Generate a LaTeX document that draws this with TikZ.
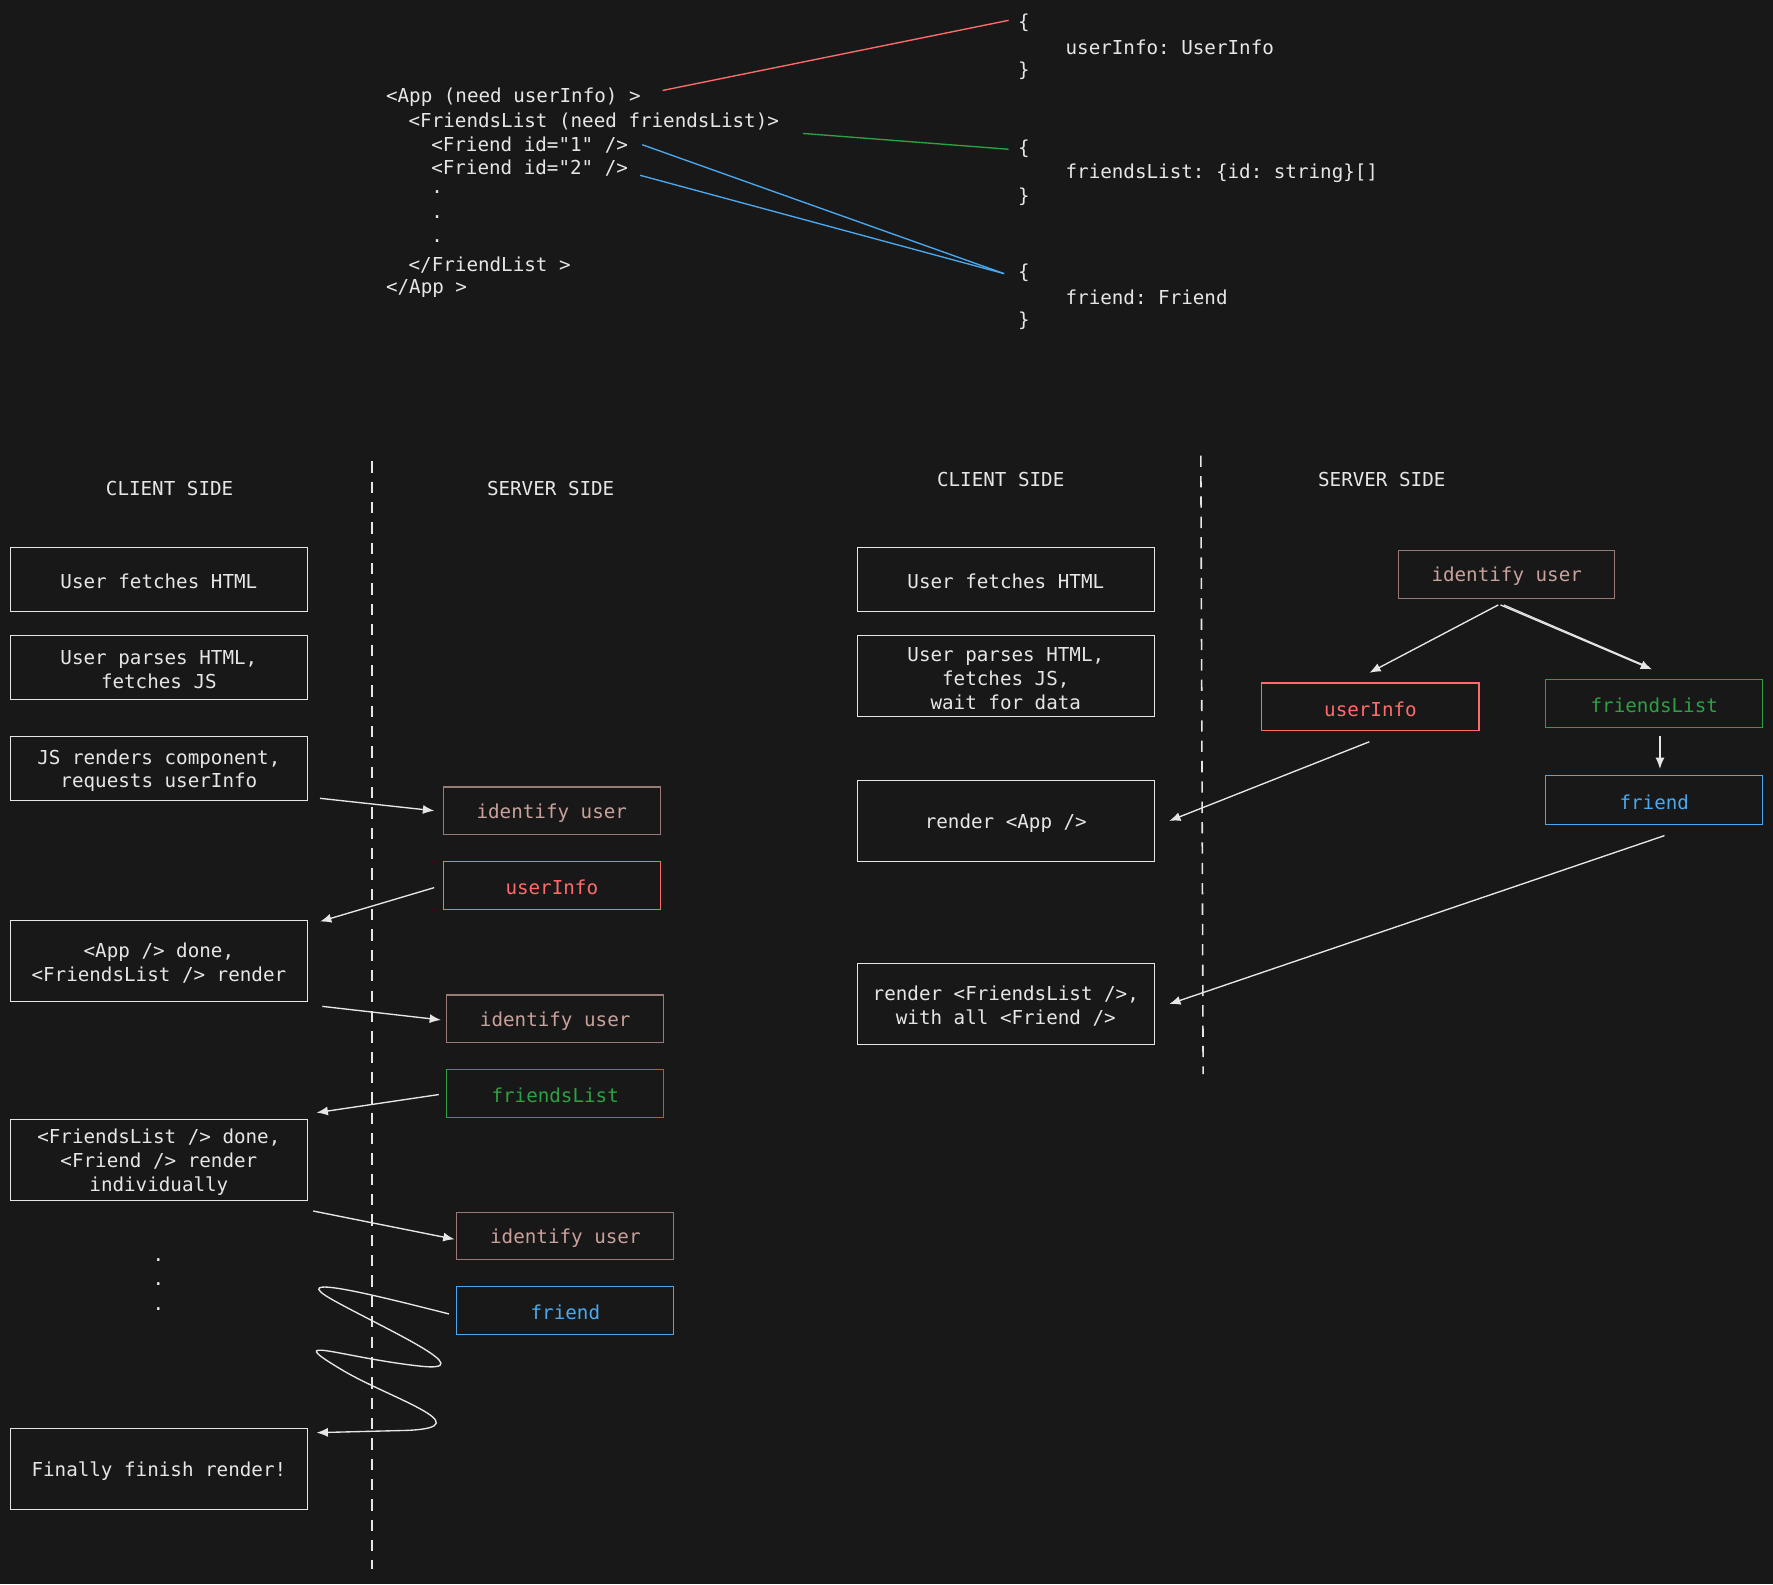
\documentclass[tikz,border=0pt]{standalone}
\usepackage{fontspec}
\setmonofont{DejaVu Sans Mono}
\usetikzlibrary{arrows.meta}
\definecolor{bg}{HTML}{181818}
\definecolor{fg}{HTML}{E6E6E6}
\definecolor{rd}{HTML}{FF6B6B}
\definecolor{sal}{HTML}{C9A19B}
\definecolor{salb}{HTML}{9A7A76}
\definecolor{gr}{HTML}{2EA043}
\definecolor{bl}{HTML}{4AA8F0}
\tikzset{
 t/.style={text=fg,font=\ttfamily\fontsize{8.5}{10.5}\selectfont,inner sep=0,align=center,yshift=-1pt},
 tl/.style={t,anchor=west,align=left},
 cb/.style={draw=fg,line width=0.5pt,t},
 ib/.style={draw=salb,line width=0.5pt,t,text=sal},
 ub/.style={draw=rd,line width=0.5pt,t,text=rd},
 fb/.style={draw=gr,line width=0.5pt,t,text=gr},
 bb/.style={draw=bl,line width=0.5pt,t,text=bl},
 ar/.style={draw=fg,line width=0.6pt,-{Latex[length=5pt,width=4pt]}},
 dl/.style={draw=fg,line width=0.7pt,dash pattern=on 5pt off 4pt},
}
\newcommand{\bx}[6]{\path[#1,yshift=1pt] (#2,#3) rectangle (#4,#5); \node[#1,draw=none] at ({(#2+#4)/2},{(#3+#5)/2}) {#6};}
\begin{document}
\begin{tikzpicture}[x=0.5pt,y=-0.5pt]
\fill[bg] (0,0) rectangle (1568,1401);
\useasboundingbox (0,0) rectangle (1568,1401);
% code
\node[tl] (c1) at (341,84) {<App (need userInfo) >};
\node[tl] (c2) at (361,105) {<FriendsList (need friendsList)>};
\node[tl] (c3) at (381,126) {<Friend id="1" />};
\node[tl] (c4) at (381,147) {<Friend id="2" />};
\node[tl] at (381,168) {.};
\node[tl] at (381,190) {.};
\node[tl] at (381,211) {.};
\node[tl] at (361,232) {</FriendList >};
\node[tl] at (341,253) {</App >};
\node[tl] (b1) at (900,18) {\{};
\node[tl] at (942,40) {userInfo: UserInfo};
\node[tl] at (900,61) {\}};
\node[tl] (b2) at (900,130) {\{};
\node[tl] at (942,151) {friendsList: \{id: string\}[]};
\node[tl] at (900,172) {\}};
\node[tl] (b3) at (900,239) {\{};
\node[tl] at (942,261) {friend: Friend};
\node[tl] at (900,282) {\}};
\draw[rd,line width=0.6pt] (586,80) -- (892,18);
\draw[gr,line width=0.6pt] (710,118) -- (892,132);
\draw[bl,line width=0.6pt] (568,128) -- (888,242);
\draw[bl,line width=0.6pt] (566,155) -- (888,242);
% left diagram
\node[t] at (150,430) {CLIENT SIDE};
\node[t] at (487,430) {SERVER SIDE};
\draw[dl] (329,408) -- (329,1388);
\bx{cb}{9}{484}{272}{541}{User fetches HTML}
\bx{cb}{9}{562}{272}{619}{User parses HTML,\\fetches JS}
\bx{cb}{9}{651}{272}{708}{JS renders component,\\requests userInfo}
\bx{cb}{9}{814}{272}{886}{<App /> done,\\<FriendsList /> render}
\bx{cb}{9}{990}{272}{1062}{<FriendsList /> done,\\<Friend /> render\\individually}
\bx{cb}{9}{1263}{272}{1335}{Finally finish render!}
\bx{ib}{392}{696}{584}{738}{identify user}
\bx{ub}{392}{762}{584}{804}{userInfo}
\bx{ib}{395}{880}{587}{922}{identify user}
\bx{fb}{395}{946}{587}{988}{friendsList}
\bx{ib}{404}{1072}{596}{1114}{identify user}
\bx{bb}{404}{1138}{596}{1180}{friend}
\draw[ar] (283,706) -- (384,717);
\draw[ar] (384,785) -- (283,815);
\draw[ar] (285,890) -- (390,902);
\draw[ar] (388,968) -- (280,984);
\draw[ar] (277,1071) -- (402,1096);
\node[t] at (140,1112) {.};
\node[t] at (140,1134) {.};
\node[t] at (140,1156) {.};
\draw[ar] (397,1162) .. controls (330,1145) and (250,1125) .. (295,1150)
  .. controls (340,1175) and (430,1215) .. (370,1208)
  .. controls (300,1200) and (250,1180) .. (300,1210)
  .. controls (340,1235) and (430,1262) .. (360,1265) -- (280,1267);
% right diagram
\node[t] at (885,422) {CLIENT SIDE};
\node[t] at (1222,422) {SERVER SIDE};
\draw[dl] (1062,403) -- (1064,950);
\bx{cb}{758}{484}{1021}{541}{User fetches HTML}
\bx{cb}{758}{562}{1021}{634}{User parses HTML,\\fetches JS,\\wait for data}
\bx{cb}{758}{690}{1021}{762}{render <App />}
\bx{cb}{758}{852}{1021}{924}{render <FriendsList />,\\with all <Friend />}
\bx{ib}{1237}{487}{1428}{529}{identify user}
\bx{ub}{1116}{604}{1308}{646}{userInfo}
\bx{fb}{1367}{601}{1559}{643}{friendsList}
\bx{bb}{1367}{686}{1559}{729}{friend}
\draw[ar] (1325,535) -- (1211,595);
\draw[ar] (1327,535) -- (1461,592);
\draw[fg,line width=0.5pt] (1330,535) -- (1458,590);
\draw[ar] (1468,651) -- (1468,680);
\draw[ar] (1211,656) -- (1034,726);
\draw[ar] (1472,739) -- (1034,888);
\end{tikzpicture}
\end{document}
